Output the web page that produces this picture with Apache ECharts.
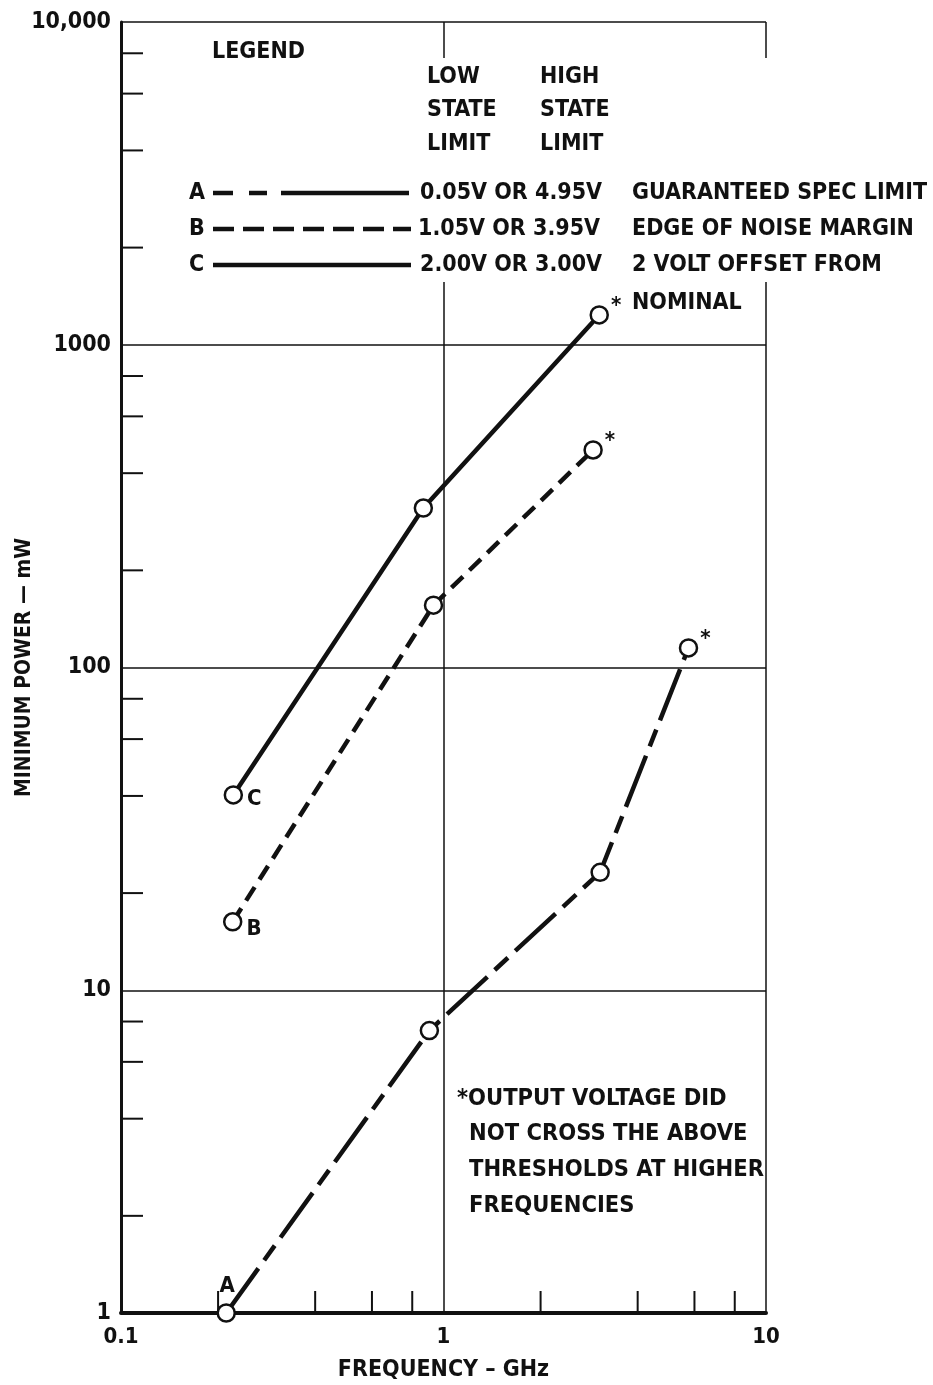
<!DOCTYPE html>
<html>
<head>
<meta charset="utf-8">
<title>Minimum power vs frequency</title>
<script src="https://cdn.jsdelivr.net/npm/echarts@6/dist/echarts.min.js"></script>
<style>
  html, body { margin: 0; padding: 0; background: #fff; }
  #chart { width: 933px; height: 1385px; }
</style>
</head>
<body>
<div id="chart"></div>
<script>
// values (frequency in GHz, power in mW)
const freqA = [0.212, 0.904, 3.06, 5.75]
const powerA = [1.0, 7.5, 23.2, 115]
const freqB = [0.222, 0.931, 2.91]
const powerB = [16.3, 156, 472]
const freqC = [0.223, 0.866, 3.04]
const powerC = [40.3, 312, 1237]

const xTickLabels = ['0.1', '1', '10']
const yTickLabels = ['1', '10', '100', '1000', '10,000']
const xMinorTicks = [0.2, 0.4, 0.6, 0.8, 2, 4, 6, 8]
const yMinorTicks = [2, 4, 6, 8, 20, 40, 60, 80, 200, 400, 600, 800, 2000, 4000, 6000, 8000]

const FONT = '"Liberation Sans Narrow", "DejaVu Sans Condensed", "Roboto Condensed", Roboto, sans-serif'
const INK = '#111'

const chart = echarts.init(document.getElementById('chart'))

const starLabel = { show: true, formatter: '*', position: 'right', distance: 2, offset: [0, -9] }

function points (xs, ys, labels) {
  return xs.map((x, i) => labels[i] ? { value: [x, ys[i]], label: labels[i] } : [x, ys[i]])
}

function lineSeries (name, data, dash) {
  return {
    name,
    type: 'line',
    data,
    clip: false,
    z: 4,
    symbol: 'circle',
    symbolSize: 17,
    itemStyle: { color: '#fff', borderColor: INK, borderWidth: 2.5 },
    lineStyle: { color: INK, width: 4.5, type: dash },
    label: { color: INK, fontFamily: FONT, fontWeight: 'bold', fontSize: 22 },
    emphasis: { disabled: true },
    animation: false
  }
}

// short inside ticks at 2,4,6,8 of each decade, placed through the axes
function tickSeries (data, vertical) {
  return {
    type: 'custom',
    silent: true,
    clip: false,
    z: 3,
    data,
    renderItem: (params, api) => {
      const p = api.coord([api.value(0), api.value(1)])
      return {
        type: 'line',
        shape: vertical
          ? { x1: p[0], y1: p[1], x2: p[0], y2: p[1] - 22 }
          : { x1: p[0], y1: p[1], x2: p[0] + 22, y2: p[1] },
        style: { stroke: INK, lineWidth: 2 }
      }
    }
  }
}

function txt (text, x, y, size) {
  return {
    type: 'text',
    z: 6,
    x,
    y,
    style: {
      text,
      fill: INK,
      font: 'bold ' + (size || 23) + 'px ' + FONT,
      textAlign: 'left',
      align: 'left',
      textVerticalAlign: 'middle',
      verticalAlign: 'middle'
    }
  }
}

function seg (x1, x2, y, dash) {
  return {
    type: 'line',
    z: 6,
    shape: { x1, y1: y, x2, y2: y },
    style: { stroke: INK, lineWidth: 4.5, lineDash: dash || null }
  }
}

const labelByPow = (labels, base) => v => labels[Math.round(Math.log10(v / base))]

chart.setOption({
  backgroundColor: '#fff',
  animation: false,
  grid: { left: 121, right: 167, top: 22, bottom: 72, containLabel: false, outerBoundsMode: 'none' },
  xAxis: {
    type: 'log',
    logBase: 10,
    min: 0.1,
    max: 10,
    name: 'FREQUENCY – GHz',
    nameLocation: 'middle',
    nameGap: 46,
    nameTextStyle: { color: INK, fontFamily: FONT, fontWeight: 'bold', fontSize: 23 },
    axisLine: { lineStyle: { color: INK, width: 4 } },
    axisTick: { show: false },
    axisLabel: { color: INK, fontFamily: FONT, fontWeight: 'bold', fontSize: 22, margin: 13, formatter: labelByPow(xTickLabels, 0.1) },
    splitLine: { show: true, lineStyle: { color: INK, width: 1.5 } }
  },
  yAxis: {
    type: 'log',
    logBase: 10,
    min: 1,
    max: 10000,
    name: 'MINIMUM POWER — mW',
    nameLocation: 'middle',
    nameRotate: 90,
    nameGap: 86,
    nameMoveOverlap: false,
    nameTextStyle: { color: INK, fontFamily: FONT, fontWeight: 'bold', fontSize: 21 },
    axisLine: { lineStyle: { color: INK, width: 3 } },
    axisTick: { show: false },
    axisLabel: { color: INK, fontFamily: FONT, fontWeight: 'bold', fontSize: 23, margin: 10, formatter: labelByPow(yTickLabels, 1) },
    splitLine: { show: true, lineStyle: { color: INK, width: 1.5 } }
  },
  graphic: {
    elements: [
      // blank the grid behind the legend block
      { type: 'rect', z: 1, shape: { x: 150, y: 58, width: 780, height: 224 }, style: { fill: '#fff' } },
      txt('LEGEND', 212, 52),
      txt('LOW', 427, 77), txt('STATE', 427, 110), txt('LIMIT', 427, 144),
      txt('HIGH', 540, 77), txt('STATE', 540, 110), txt('LIMIT', 540, 144),
      txt('A', 189, 193), seg(213, 233, 193), seg(249, 267, 193), seg(281, 409, 193),
      txt('0.05V OR 4.95V', 420, 193), txt('GUARANTEED SPEC LIMIT', 632, 193),
      txt('B', 189, 229), seg(213, 411, 229, [21, 9]),
      txt('1.05V OR 3.95V', 418, 229), txt('EDGE OF NOISE MARGIN', 632, 229),
      txt('C', 189, 265), seg(213, 411, 265),
      txt('2.00V OR 3.00V', 420, 265), txt('2 VOLT OFFSET FROM', 632, 265),
      txt('NOMINAL', 632, 303),
      txt('*OUTPUT VOLTAGE DID', 457, 1099, 23.5),
      txt('NOT CROSS THE ABOVE', 469, 1134, 23.5),
      txt('THRESHOLDS AT HIGHER', 469, 1170, 23.5),
      txt('FREQUENCIES', 469, 1206, 23.5)
    ]
  },
  series: [
    tickSeries(xMinorTicks.map(v => [v, 1]), true),
    tickSeries(yMinorTicks.map(v => [0.1, v]), false),
    lineSeries('A', points(freqA, powerA, [
      { show: true, formatter: 'A', position: 'top', distance: 6, offset: [1, 0] },
      null, null, starLabel
    ]), [55, 10, 18, 10]),
    lineSeries('B', points(freqB, powerB, [
      { show: true, formatter: 'B', position: 'right', distance: 4, offset: [0, 8] },
      null, starLabel
    ]), [16, 9]),
    lineSeries('C', points(freqC, powerC, [
      { show: true, formatter: 'C', position: 'right', distance: 4, offset: [0, 4] },
      null, starLabel
    ]), 'solid')
  ]
})
</script>
</body>
</html>
